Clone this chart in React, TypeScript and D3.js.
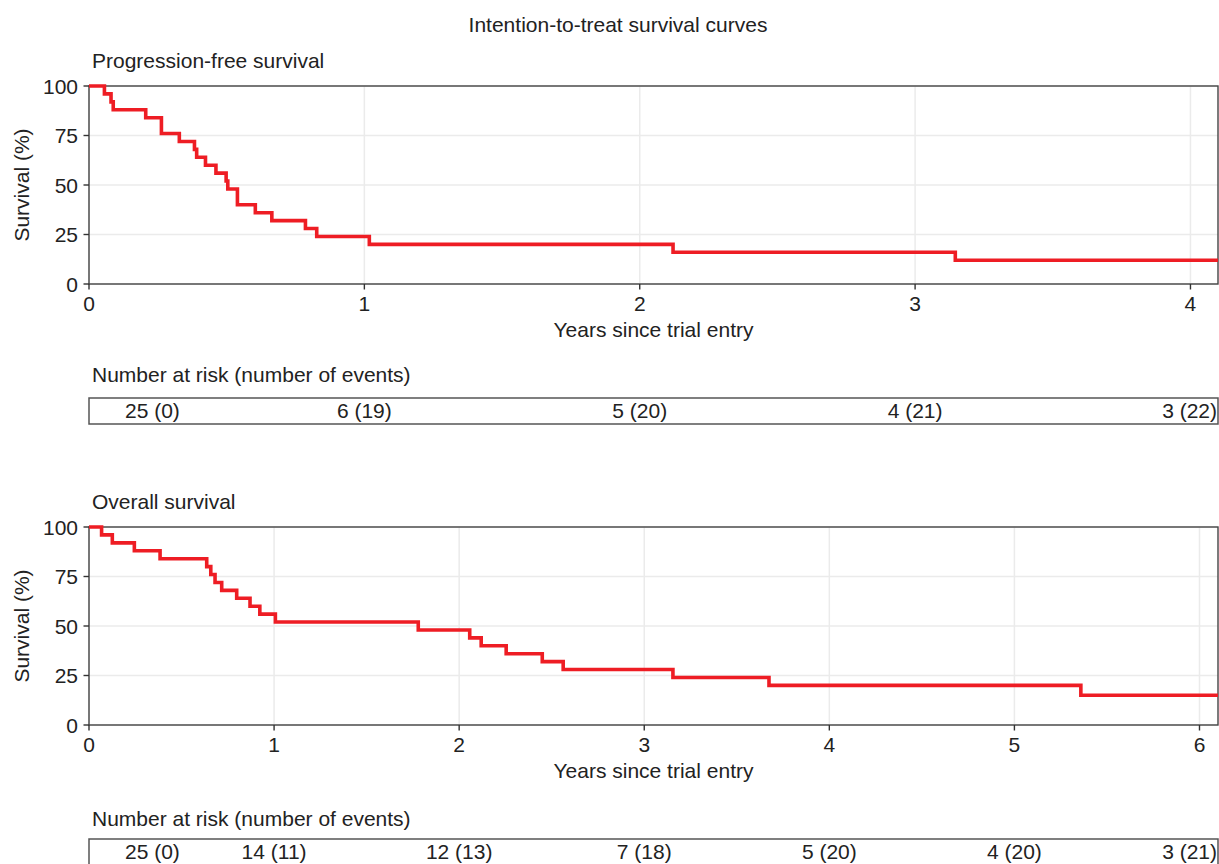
import * as d3 from "d3";

// Kaplan-Meier steps (years, survival %)
const pfsTimes = [0.056, 0.08, 0.088, 0.206, 0.263, 0.328, 0.383, 0.391, 0.423, 0.461, 0.498, 0.504, 0.539, 0.604, 0.664, 0.786, 0.827, 1.018, 2.121, 3.146];
const pfsSurvival = [96, 92, 88, 84, 76, 72, 68, 64, 60, 56, 52, 48, 40, 36, 32, 28, 24, 20, 16, 12];
const pfsYearTicks = [0, 1, 2, 3, 4];
const pfsRiskLabels = ["25 (0)", "6 (19)", "5 (20)", "4 (21)", "3 (22)"];

const osTimes = [0.068, 0.126, 0.245, 0.384, 0.636, 0.658, 0.681, 0.717, 0.798, 0.87, 0.923, 1.007, 1.779, 2.057, 2.119, 2.254, 2.449, 2.562, 3.155, 3.674, 5.359];
const osSurvival = [96, 92, 88, 84, 80, 76, 72, 68, 64, 60, 56, 52, 48, 44, 40, 36, 32, 28, 24, 20, 15];
const osYearTicks = [0, 1, 2, 3, 4, 5, 6];
const osRiskLabels = ["25 (0)", "14 (11)", "12 (13)", "7 (18)", "5 (20)", "4 (20)", "3 (21)"];

const survivalTicks = [0, 25, 50, 75, 100];

const FONT = "'Liberation Sans', Arial, Helvetica, sans-serif";
const FS = 21;
const RED = "#ee1d24";
const INK = "#222";
const LEFT = 89;
const RIGHT = 1218;

interface Step {
  t: number;
  s: number;
}

interface PanelProps {
  id: string;
  title: string;
  times: number[];
  survival: number[];
  maxYear: number;
  yearTicks: number[];
  riskLabels: string[];
  plotTop: number;
  plotBottom: number;
  riskHeadY: number;
  tableTop: number;
}

function KmPanel(p: PanelProps) {
  const x = d3.scaleLinear().domain([0, p.maxYear]).range([LEFT, RIGHT]);
  const y = d3.scaleLinear().domain([0, 100]).range([p.plotBottom, p.plotTop]);

  const steps: Step[] = [{ t: 0, s: 100 }, ...p.times.map((t, i) => ({ t, s: p.survival[i] }))];
  steps.push({ t: p.maxYear, s: p.survival[p.survival.length - 1] });

  const line = d3
    .line<Step>()
    .x((d) => x(d.t))
    .y((d) => y(d.s))
    .curve(d3.curveStepAfter);

  const midY = (p.plotTop + p.plotBottom) / 2;
  const tableH = 26;

  return (
    <g>
      <text x={92} y={p.plotTop - 18} fontSize={FS} fill={INK}>
        {p.title}
      </text>

      <clipPath id={p.id}>
        <rect x={LEFT} y={p.plotTop - 3} width={RIGHT - LEFT} height={p.plotBottom - p.plotTop + 6} />
      </clipPath>

      {/* grid */}
      {survivalTicks.map((v) => (
        <line key={"gy" + v} x1={LEFT} x2={RIGHT} y1={y(v)} y2={y(v)} stroke="#ebebeb" strokeWidth={1.5} />
      ))}
      {p.yearTicks.map((v) => (
        <line key={"gx" + v} x1={x(v)} x2={x(v)} y1={p.plotTop} y2={p.plotBottom} stroke="#ebebeb" strokeWidth={1.5} />
      ))}

      <rect
        x={LEFT}
        y={p.plotTop}
        width={RIGHT - LEFT}
        height={p.plotBottom - p.plotTop}
        fill="none"
        stroke="#444"
        strokeWidth={1.4}
      />

      <path d={line(steps) ?? ""} fill="none" stroke={RED} strokeWidth={3.6} clipPath={`url(#${p.id})`} />

      {/* y axis */}
      {survivalTicks.map((v) => (
        <g key={"ty" + v}>
          <line x1={LEFT - 5.5} x2={LEFT} y1={y(v)} y2={y(v)} stroke="#333" strokeWidth={1.4} />
          <text x={LEFT - 11} y={y(v)} dy="0.36em" textAnchor="end" fontSize={FS} fill={INK}>
            {v}
          </text>
        </g>
      ))}
      <text
        transform={`translate(29,${midY}) rotate(-90)`}
        textAnchor="middle"
        fontSize={FS}
        fill={INK}
      >
        Survival (%)
      </text>

      {/* x axis */}
      {p.yearTicks.map((v) => (
        <g key={"tx" + v}>
          <line x1={x(v)} x2={x(v)} y1={p.plotBottom} y2={p.plotBottom + 5.5} stroke="#333" strokeWidth={1.4} />
          <text x={x(v)} y={p.plotBottom + 27} textAnchor="middle" fontSize={FS} fill={INK}>
            {v}
          </text>
        </g>
      ))}
      <text x={(LEFT + RIGHT) / 2} y={p.plotBottom + 53} textAnchor="middle" fontSize={FS} fill={INK}>
        Years since trial entry
      </text>

      {/* number at risk */}
      <text x={92} y={p.riskHeadY} fontSize={FS} fill={INK}>
        Number at risk (number of events)
      </text>
      <rect x={LEFT} y={p.tableTop} width={RIGHT - LEFT} height={tableH} fill="none" stroke="#555" strokeWidth={1.5} />
      {p.riskLabels.map((lab, i) => {
        const first = i === 0;
        const last = i === p.riskLabels.length - 1;
        const tx = first ? LEFT + 36 : last ? RIGHT - 1 : x(p.yearTicks[i]);
        return (
          <text
            key={"r" + i}
            x={tx}
            y={p.tableTop + 20}
            textAnchor={first ? "start" : last ? "end" : "middle"}
            fontSize={FS}
            fill={INK}
          >
            {lab}
          </text>
        );
      })}
    </g>
  );
}

export default function App() {
  return (
    <svg
      width={1219}
      height={864}
      style={{ position: "absolute", left: 0, top: 0, background: "#fff" }}
      fontFamily={FONT}
    >
      <rect width={1219} height={864} fill="#fff" />
      <text x={618} y={32} textAnchor="middle" fontSize={FS} fill={INK}>
        Intention-to-treat survival curves
      </text>
      <KmPanel
        id="clip-pfs"
        title="Progression-free survival"
        times={pfsTimes}
        survival={pfsSurvival}
        maxYear={4.1}
        yearTicks={pfsYearTicks}
        riskLabels={pfsRiskLabels}
        plotTop={86}
        plotBottom={284}
        riskHeadY={382}
        tableTop={398}
      />
      <KmPanel
        id="clip-os"
        title="Overall survival"
        times={osTimes}
        survival={osSurvival}
        maxYear={6.1}
        yearTicks={osYearTicks}
        riskLabels={osRiskLabels}
        plotTop={527}
        plotBottom={725}
        riskHeadY={826}
        tableTop={839}
      />
    </svg>
  );
}
